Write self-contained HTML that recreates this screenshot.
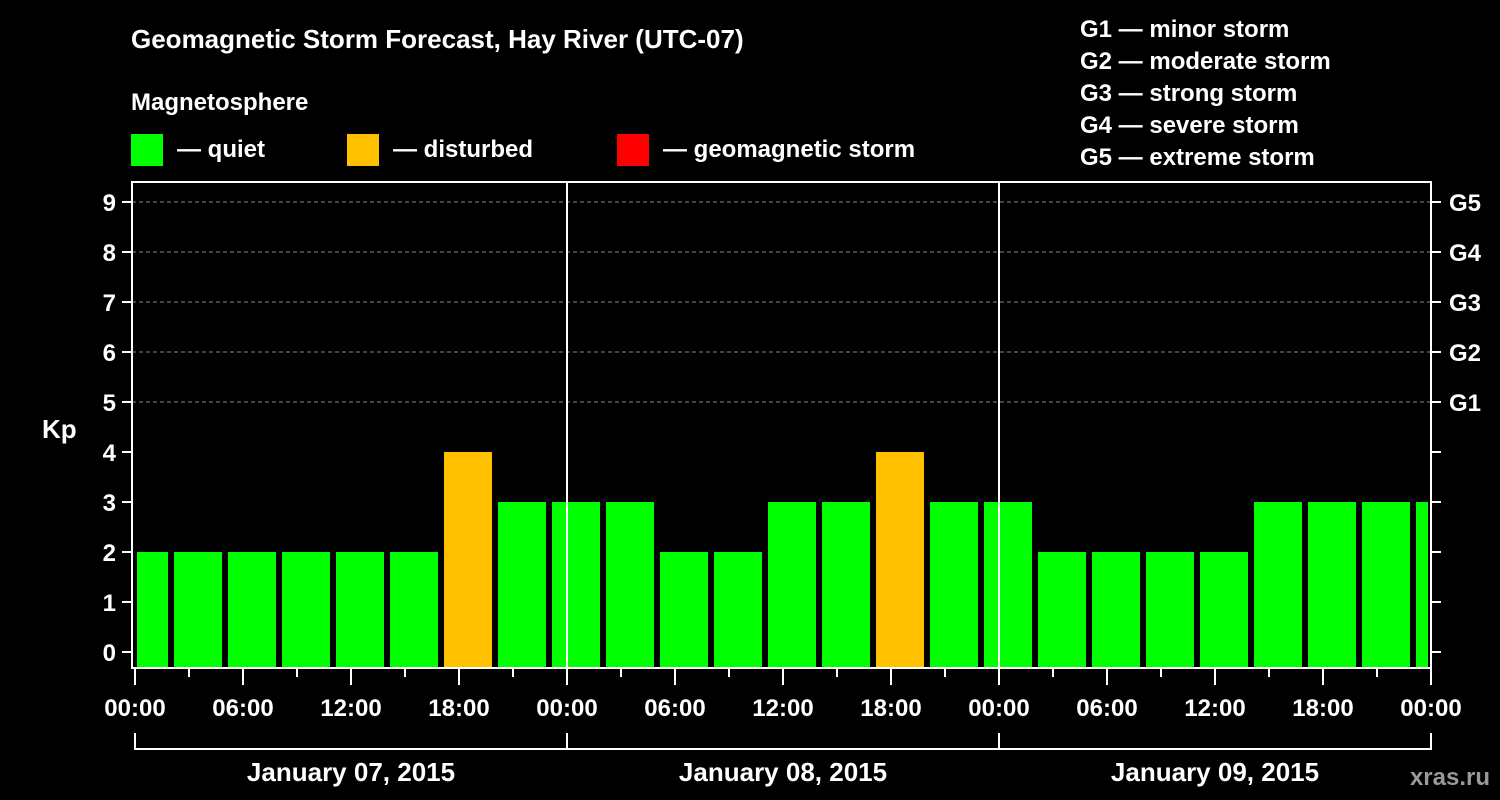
<!DOCTYPE html>
<html><head><meta charset="utf-8"><style>
body{margin:0;background:#000;width:1500px;height:800px;overflow:hidden}
svg{display:block;font-family:"Liberation Sans",Arial,sans-serif;font-weight:bold;fill:#fff}
</style></head><body>
<svg id="c" width="1500" height="800" viewBox="0 0 1500 800">
<rect width="1500" height="800" fill="#000"/>
<text x="131" y="48" font-size="26">Geomagnetic Storm Forecast, Hay River (UTC-07)</text>
<text x="131" y="110" font-size="24">Magnetosphere</text>
<g><rect x="131" y="134" width="32" height="32" fill="#00ff00"/><text x="177" y="157" font-size="24">— quiet</text></g>
<g><rect x="347" y="134" width="32" height="32" fill="#ffc000"/><text x="393" y="157" font-size="24">— disturbed</text></g>
<g><rect x="617" y="134" width="32" height="32" fill="#ff0000"/><text x="663" y="157" font-size="24">— geomagnetic storm</text></g>
<g font-size="24">
<text x="1080" y="37">G1 — minor storm</text><text x="1080" y="69">G2 — moderate storm</text><text x="1080" y="101">G3 — strong storm</text><text x="1080" y="133">G4 — severe storm</text><text x="1080" y="165">G5 — extreme storm</text></g>
<text x="42" y="438" font-size="26">Kp</text>
<text x="1490" y="785" font-size="24" fill="#999" style="fill:#999" text-anchor="end">xras.ru</text>
<g id="grid"></g><g id="bars"></g><g id="axes"></g>
</svg>
<script>
const kpValues=[2,2,2,2,2,2,4,3,3,3,2,2,3,3,4,3,3,2,2,2,2,3,3,3,3];
const binStartHour=-1;
const yTicks=[0,1,2,3,4,5,6,7,8,9];
const gLabels=["G1","G2","G3","G4","G5"];
const xTickLabels=["00:00","06:00","12:00","18:00"];
const dayLabels=["January 07, 2015","January 08, 2015","January 09, 2015"];
const X0=135,XPH=18,XEND=1430,PT=182,PB=668;
const x=h=>X0+h*XPH;
const y=v=>652-v*50;
const NS="http://www.w3.org/2000/svg";
function mk(t,a,p){const e=document.createElementNS(NS,t);for(const k in a)e.setAttribute(k,a[k]);p.appendChild(e);return e;}
const grid=document.getElementById('grid'),bars=document.getElementById('bars'),axes=document.getElementById('axes');
yTicks.forEach(v=>{
 if(v>=5){const l=mk('line',{x1:132,x2:1431,y1:y(v),y2:y(v),stroke:'#888','stroke-dasharray':'4,3','stroke-width':1},grid);
 
 }
 mk('line',{x1:122,x2:132,y1:y(v),y2:y(v),stroke:'#fff','stroke-width':2},axes);
 mk('line',{x1:1431,x2:1441,y1:y(v),y2:y(v),stroke:'#fff','stroke-width':2},axes);
 const t=mk('text',{x:116,y:y(v)+9,'font-size':24,'text-anchor':'end'},axes);t.textContent=v;
 
 
});
gLabels.forEach((g,i)=>{const t=mk('text',{x:1449,y:y(i+5)+9,'font-size':24},axes);t.textContent=g;
 
 });
kpValues.forEach((v,i)=>{
 const h=binStartHour+i*3;let x1=Math.max(x(h)+3,X0+2),x2=Math.min(x(h+3)-3,XEND-2);
 const c=v>=5?'#ff0000':v>=4?'#ffc000':'#00ff00';
 const r=mk('rect',{x:x1,y:y(v),width:x2-x1,height:PB-y(v),fill:c},bars);
 
 
});
[1,2].forEach(d=>mk('line',{x1:x(d*24),x2:x(d*24),y1:PT,y2:PB,stroke:'#fff','stroke-width':2},axes));
mk('rect',{x:132,y:PT,width:1299,height:PB-PT,fill:'none',stroke:'#fff','stroke-width':2},axes);
for(let h=0;h<=72;h+=3){mk('line',{x1:x(h),x2:x(h),y1:PB,y2:PB+(h%6?9:17),stroke:'#fff','stroke-width':2},axes);}
for(let h=0;h<=72;h+=6){const t=mk('text',{x:x(h),y:716,'font-size':24,'text-anchor':'middle'},axes);t.textContent=xTickLabels[(h/6)%4];
 
 }
mk('line',{x1:x(0),x2:x(72),y1:749,y2:749,stroke:'#fff','stroke-width':2},axes);
for(let d=0;d<=3;d++)mk('line',{x1:x(d*24),x2:x(d*24),y1:733,y2:750,stroke:'#fff','stroke-width':2},axes);
dayLabels.forEach((s,d)=>{const t=mk('text',{x:x(d*24+12),y:781,'font-size':26,'text-anchor':'middle'},axes);t.textContent=s;
 
 });
</script>
</body></html>
